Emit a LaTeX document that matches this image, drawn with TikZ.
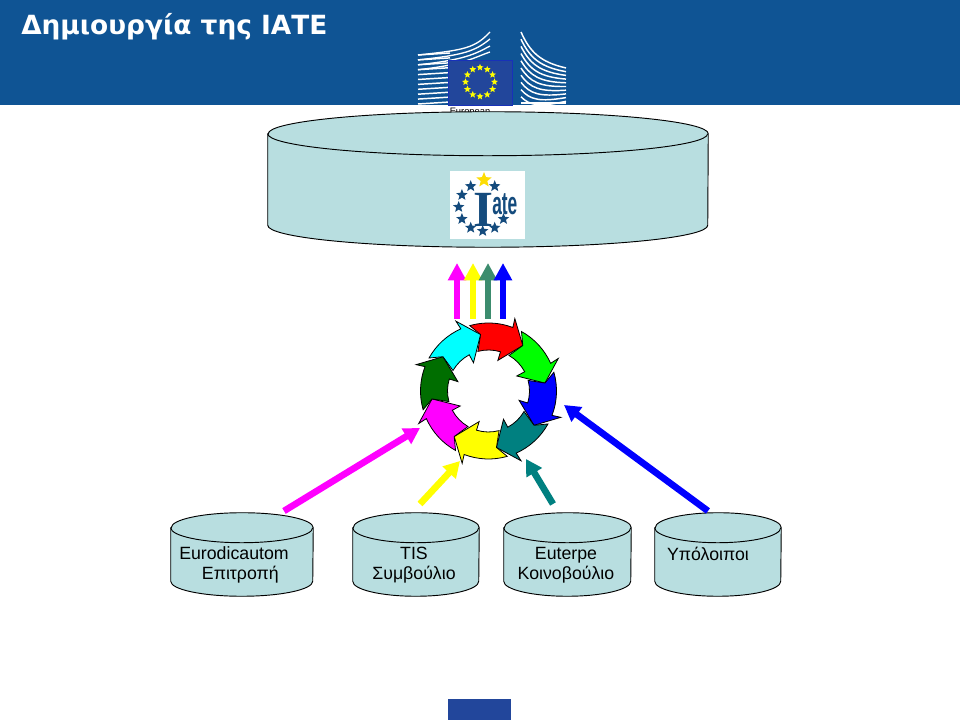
\documentclass[tikz,border=0pt]{standalone}
\usepackage{fontspec}
\setmainfont{Liberation Sans}
\newfontfamily\titlefont{DejaVu Sans}
\newfontfamily\logofont{Liberation Serif}
\usetikzlibrary{arrows.meta,positioning,shapes.geometric}
\definecolor{headblue}{RGB}{15,84,148}
\definecolor{flagblue}{RGB}{34,70,155}
\definecolor{dbfill}{RGB}{184,222,224}
\definecolor{logoblue}{RGB}{20,75,125}
\definecolor{upgreen}{RGB}{60,140,110}
\definecolor{arrowteal}{RGB}{0,128,128}
\definecolor{arrowgreen}{RGB}{0,110,0}
\definecolor{arrowred}{RGB}{255,0,0}
\definecolor{arrowlime}{RGB}{0,255,0}
\definecolor{arrowblue}{RGB}{0,0,255}
\definecolor{arrowyellow}{RGB}{255,255,0}
\definecolor{arrowmagenta}{RGB}{255,0,255}
\definecolor{arrowcyan}{RGB}{0,255,255}

\begin{document}
\begin{tikzpicture}[x=0.75pt,y=0.75pt]
  \tikzstyle{database}=[draw=black,fill=dbfill,line width=0.7pt]
  \tikzstyle{dbtext}=[font=\fontsize{13.3}{15}\selectfont,align=center,inner sep=0pt]
  \tikzstyle{flow}=[line width=5pt,-{Triangle[length=12pt,width=13pt]}]
  \tikzstyle{upflow}=[line width=5.2pt,-{Triangle[length=13pt,width=13pt]}]
  \tikzstyle{cyclearrow}=[draw=black,line width=0.6pt,line join=miter]
  \tikzstyle{flagstar}=[star,star points=5,star point ratio=2.3,fill=arrowyellow,inner sep=0pt,minimum size=5.5pt]
  \tikzstyle{logostar}=[star,star points=5,star point ratio=2.3,fill=logoblue,inner sep=0pt,minimum size=9pt]
  \useasboundingbox (0,0) rectangle (960,720);
  \fill[white] (0,0) rectangle (960,720);
  % header and footer
  \fill[headblue] (0,615) rectangle (960,720);
  \fill[flagblue] (448,0) rectangle (511,21);
  \node[anchor=west,text=white,inner sep=0pt,font=\titlefont\bfseries\fontsize{19.8}{22}\selectfont] (title) at (21,693) {Δημιουργία της ΙΑΤΕ};
  % commission building
  \foreach \i in {0,...,10}
    \draw[white,line width=1.1pt] (418,{665-\i*4.9}) -- (450,{667-\i*4.9});
  \foreach \i/\yb in {0/688,1/681,2/674,3/668}
    \draw[white,line width=1pt] (418,{665-\i*4.9}) .. controls (465,{670-\i*4.9}) and (475,{672-\i*3}) .. (490,\yb);
  \foreach \i in {0,...,9}
    \draw[white,line width=1.1pt] (521,{688-\i*7.2}) .. controls (530,{668-\i*6}) and (540,{658-\i*5}) .. (566,{652-\i*3.7});
  \draw[white,line width=1.1pt] (521,617) -- (566,617);
  \fill[flagblue,draw=blue!30!flagblue] (448,615) rectangle (512,660);
  \foreach \a in {0,30,...,330}
    \node[flagstar] (flag\a) at ([shift={(\a:14.5)}]480,638) {};
  \node[inner sep=0pt,font=\fontsize{7}{8}\selectfont] (eur) at (470,608) {European};
  % databases
  \foreach \n/\cx/\cy/\w/\h/\ry in {iate/488/540.5/440/135/22,euro/242/165.5/142/83/15,tis/416/165.5/126/83/15,eut/567.5/165.5/127/83/15,rest/718/165.5/126/83/15} {
    \node[minimum width=\w*0.75pt,minimum height=\h*0.75pt,inner sep=0pt] (\n) at (\cx,\cy) {};
    \draw[database] ([yshift=-\ry*0.75pt]\n.north west) -- ([yshift=\ry*0.75pt]\n.south west) arc[start angle=180,end angle=360,x radius=\w/2,y radius=\ry] -- ([yshift=-\ry*0.75pt]\n.north east) arc[start angle=0,end angle=180,x radius=\w/2,y radius=\ry] -- cycle;
    \draw[line width=0.7pt] ([yshift=-\ry*0.75pt]\n.north west) arc[start angle=180,end angle=360,x radius=\w/2,y radius=\ry];
  }
  \node[dbtext,align=left] (eurotext) at (234,155) {Eurodicautom\\\hspace*{17pt}Επιτροπή};
  \node[dbtext] (tistext) at (414,155) {TIS\\Συμβούλιο};
  \node[dbtext] (euttext) at (566,155) {Euterpe\\Κοινοβούλιο};
  \node[dbtext] (resttext) at (708,166) {Υπόλοιποι};
  % iate logo
  \node[fill=white,minimum width=56pt,minimum height=51pt,inner sep=0pt] (logo) at (487.5,515) {};
  \foreach \a in {60,120,150,180,210,240,270,300,330}
    \node[logostar] (lstar\a) at ([shift={(\a:24)}]482.7,513) {};
  \node[star,star points=5,star point ratio=2.3,fill=yellow!80!orange,inner sep=0pt,minimum size=12pt] (lstar90) at (484,540) {};
  \node[inner sep=0pt,text=logoblue,font=\logofont\bfseries] (logoi) at (483,510) {\scalebox{3.85}[3.8]{I}};
  \node[inner sep=0pt,text=logoblue,anchor=west,font=\bfseries] (logoate) at (492,516) {\scalebox{1.3}[2.4]{ate}};
  % cycle
  \begin{scope}[shift={(488.5,329)}]
    \foreach \rot/\col in {0/arrowred,-45/arrowlime,-90/arrowblue,-135/arrowteal,-180/arrowyellow,-225/arrowmagenta,-270/arrowgreen,-315/arrowcyan}
      \draw[cyclearrow,fill=\col] (\rot+106:68) arc[start angle=\rot+106,end angle=\rot+69,radius=68] -- (\rot+70:77) -- (\rot+53:57) -- (\rot+73:32) -- (\rot+73:41) arc[start angle=\rot+73,end angle=\rot+105,radius=41] -- (\rot+98:57) -- cycle;
  \end{scope}
  % flows
  \coordinate (m0) at (457,401); \coordinate (m1) at (457,457);
  \coordinate (y0) at (473,401); \coordinate (y1) at (473,457);
  \coordinate (g0) at (488,401); \coordinate (g1) at (488,457);
  \coordinate (b0) at (503,401); \coordinate (b1) at (503,457);
  \draw[upflow,arrowmagenta] (m0) -- (m1);
  \draw[upflow,arrowyellow] (y0) -- (y1);
  \draw[upflow,upgreen] (g0) -- (g1);
  \draw[upflow,arrowblue] (b0) -- (b1);
  \coordinate (cm) at (420,292); \coordinate (cy) at (460,259);
  \coordinate (ct) at (526,261); \coordinate (cb) at (564,315);
  \coordinate (em) at (284,209); \coordinate (ey) at (420,216);
  \coordinate (et) at (553,216); \coordinate (eb) at (708,209);
  \draw[flow,arrowmagenta] (em) -- (cm);
  \draw[flow,arrowyellow] (ey) -- (cy);
  \draw[flow,arrowteal] (et) -- (ct);
  \draw[flow,arrowblue] (eb) -- (cb);
\end{tikzpicture}
\end{document}
